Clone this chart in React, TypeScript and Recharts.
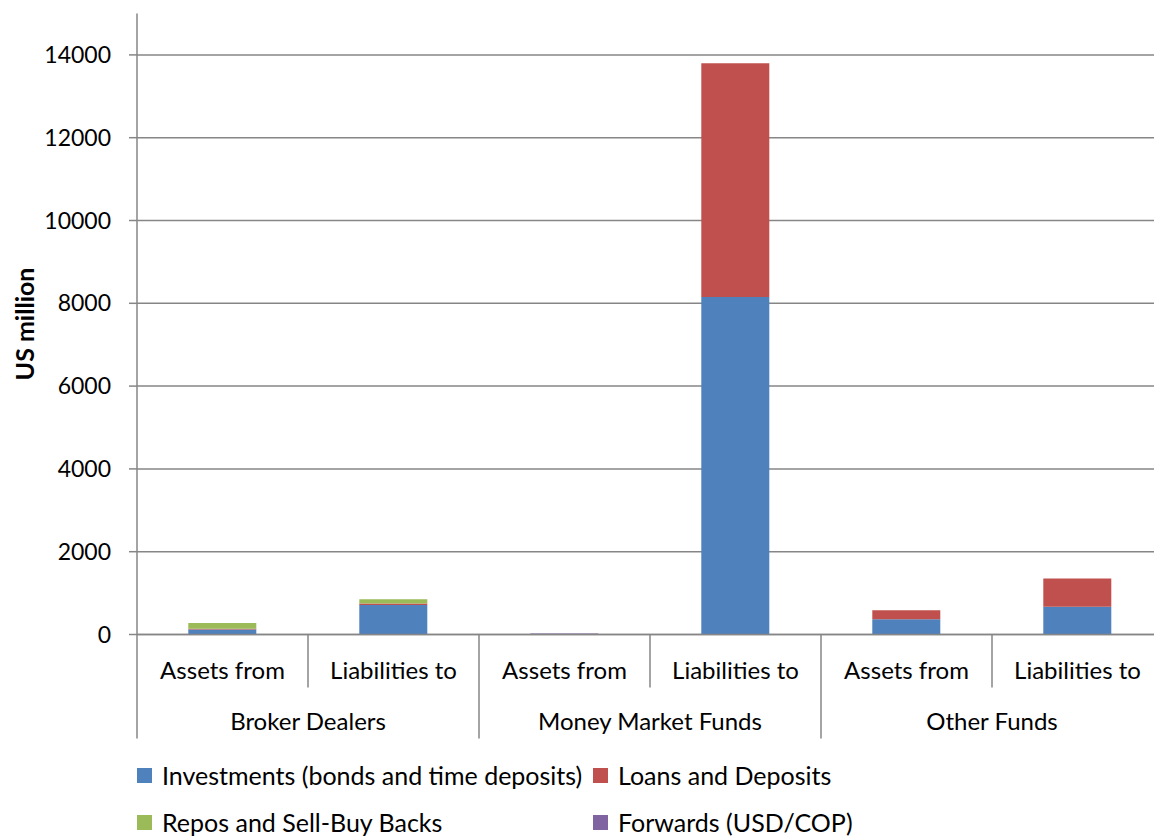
import type { ReactElement } from 'react'
import { BarChart, Bar, XAxis, YAxis, CartesianGrid } from 'recharts'

const categories = ['Assets from', 'Liabilities to', 'Assets from', 'Liabilities to', 'Assets from', 'Liabilities to']
const groups = ['Broker Dealers', 'Money Market Funds', 'Other Funds']
const investments = [120, 710, 0, 8150, 370, 670]
const loans = [20, 40, 0, 5650, 215, 680]
const repos = [140, 100, 0, 0, 0, 0]
const forwards = [0, 0, 25, 0, 0, 0]
const yTicks = [0, 2000, 4000, 6000, 8000, 10000, 12000, 14000]

const seriesInfo = [
  { key: 'investments', name: 'Investments (bonds and time deposits)', color: '#4F81BD' },
  { key: 'loans', name: 'Loans and Deposits', color: '#C0504D' },
  { key: 'repos', name: 'Repos and Sell-Buy Backs', color: '#9BBB59' },
  { key: 'forwards', name: 'Forwards (USD/COP)', color: '#8064A2' },
]

const data = categories.map((cat, i) => ({
  id: `${i}`,
  label: cat,
  group: groups[Math.floor(i / 2)],
  investments: investments[i],
  loans: loans[i],
  repos: repos[i],
  forwards: forwards[i],
}))

const FONT = 'Lato, "Open Sans", sans-serif'
const AXIS_COLOR = '#868686'
const CHART_W = 1170
const CHART_H = 836
const PLOT_LEFT = 137
const PLOT_RIGHT = 7
const BAND = (CHART_W - PLOT_LEFT - PLOT_RIGHT) / categories.length

function CategoryTick(props: any): ReactElement {
  const { x, y, index } = props
  const item = data[index]
  const isGroupStart = index % 2 === 0
  const left = x - BAND / 2
  return (
    <g>
      <line x1={left} x2={left} y1={y} y2={y + (isGroupStart ? 104 : 53)} stroke={AXIS_COLOR} strokeWidth={1.5} />
      <text x={x} y={y + 35} textAnchor="middle" dominantBaseline="central" fill="#000" fontSize={24} fontFamily={FONT}>
        {item.label}
      </text>
      {isGroupStart && (
        <text x={x + BAND / 2} y={y + 86} textAnchor="middle" dominantBaseline="central" fill="#000" fontSize={24} fontFamily={FONT}>
          {item.group}
        </text>
      )}
    </g>
  )
}

function YLabel(props: any): ReactElement {
  const { viewBox } = props
  const cx = viewBox.x + 24
  const cy = viewBox.y + viewBox.height / 2
  return (
    <text
      x={cx}
      y={cy}
      transform={`rotate(-90, ${cx}, ${cy})`}
      textAnchor="middle"
      dominantBaseline="central"
      fontWeight="bold"
      fontSize={25}
      fontFamily={FONT}
      fill="#000"
    >
      US million
    </text>
  )
}

function LegendBlock(): ReactElement {
  const cols = [137, 593]
  const rows = [775, 822]
  return (
    <>
      {seriesInfo.map((s, i) => (
        <div
          key={s.key}
          style={{
            position: 'absolute',
            left: cols[i % 2],
            top: rows[Math.floor(i / 2)] - 14,
            height: 28,
            display: 'flex',
            alignItems: 'center',
            fontFamily: FONT,
            fontSize: 25,
            color: '#000',
            whiteSpace: 'nowrap',
          }}
        >
          <span style={{ display: 'inline-block', width: 15, height: 15, background: s.color, marginRight: 10 }} />
          {s.name}
        </div>
      ))}
    </>
  )
}

export default function App(): ReactElement {
  return (
    <div style={{ position: 'fixed', left: 0, top: 0, width: 1154, height: 836, overflow: 'hidden', background: '#fff' }}>
      <BarChart
        width={CHART_W}
        height={CHART_H}
        data={data}
        margin={{ top: 13.5, right: PLOT_RIGHT, bottom: 0, left: 0 }}
        barCategoryGap="30%"
      >
        <CartesianGrid vertical={false} syncWithTicks stroke={AXIS_COLOR} strokeWidth={1.5} />
        <XAxis
          dataKey="id"
          height={201.5}
          tickLine={false}
          tickSize={0}
          tickMargin={0}
          interval={0}
          axisLine={{ stroke: AXIS_COLOR, strokeWidth: 1.5 }}
          tick={<CategoryTick />}
        />
        <YAxis
          width={PLOT_LEFT}
          domain={[0, 15000]}
          ticks={yTicks}
          interval={0}
          tickSize={8}
          tickMargin={18}
          tickLine={{ stroke: AXIS_COLOR, strokeWidth: 1.5 }}
          axisLine={{ stroke: AXIS_COLOR, strokeWidth: 1.5 }}
          tick={{ fill: '#000', fontSize: 23, fontFamily: FONT }}
          label={<YLabel />}
        />
        {seriesInfo.map((s) => (
          <Bar key={s.key} dataKey={s.key} name={s.name} stackId="a" fill={s.color} isAnimationActive={false} />
        ))}
      </BarChart>
      <LegendBlock />
    </div>
  )
}
